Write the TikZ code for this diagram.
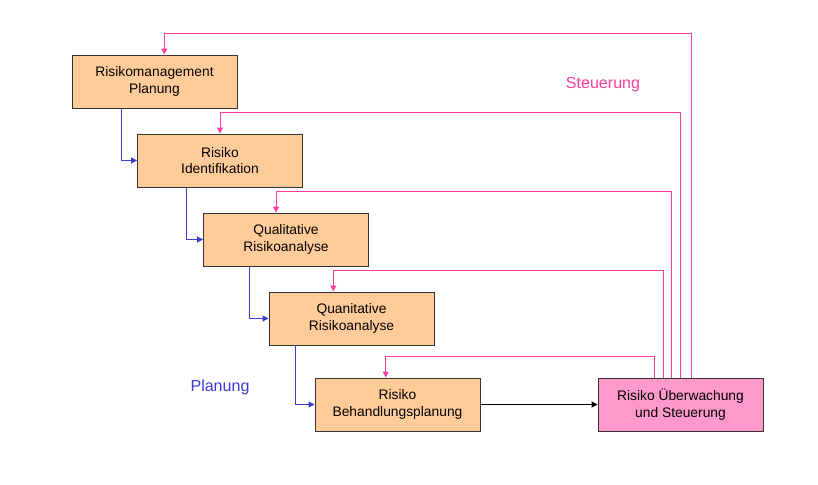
\documentclass[tikz,border=0pt]{standalone}
\usepackage{fontspec}
\setmainfont{Liberation Sans}
\usetikzlibrary{arrows.meta,calc}
\definecolor{Peach}{HTML}{FFCC99}
\definecolor{Rosa}{HTML}{FF99CC}
\definecolor{PlanBlue}{HTML}{3C3CCC}
\definecolor{CtrlPink}{HTML}{FF3D9E}
\definecolor{Frame}{HTML}{333333}
\tikzset{
  phase/.style={draw=Frame, line width=0.8pt, fill=Peach, inner sep=0pt,
    minimum width=4.95cm, minimum height=1.59cm, align=center,
    font=\fontsize{11.8}{14.2}\selectfont},
  plan/.style={PlanBlue, line width=0.85pt, -{Triangle[length=5pt,width=5pt]}},
  ctrl/.style={CtrlPink, line width=0.85pt, -{Triangle[length=5pt,width=5pt]}},
  flow/.style={black, line width=0.8pt, -{Triangle[length=5pt,width=5pt]}}
}

\begin{document}
\begin{tikzpicture}[x=0.03cm, y=-0.03cm]
\useasboundingbox (0,0) rectangle (818,485);

% --- Planungsphasen ---
\node[phase] (rmp) at (154.5,81.5) {Risikomanagement\\Planung};
\node[phase] (rid) at (220,160.5) {Risiko\\Identifikation};
\node[phase] (qla) at (286,239.5) {Qualitative\\Risikoanalyse};
\node[phase] (qna) at (351.5,318.5) {Quanitative\\Risikoanalyse};
\node[phase] (rbp) at (397.5,404.5) {Risiko\\Behandlungsplanung};
\node[phase, fill=Rosa] (rus) at (680.5,404.5) {Risiko \"Uberwachung\\und Steuerung};

\node[PlanBlue, font=\fontsize{13.7}{16}\selectfont] (lplan) at (220,387) {Planung};
\node[CtrlPink, font=\fontsize{13.7}{16}\selectfont] (lctrl) at (603,85) {Steuerung};

% --- Planung ---
\draw[plan] ($(rmp.south)+(-33.5,0)$) |- (rid.west);
\draw[plan] ($(rid.south)+(-33.3,0)$) |- (qla.west);
\draw[plan] ($(qla.south)+(-36.7,0)$) |- (qna.west);
\draw[plan] ($(qna.south)+(-55.8,0)$) |- (rbp.west);
\draw[flow] (rbp.east) -- (rus.west);

% --- Steuerung ---
\foreach \tgt/\src/\dst in {rmp/10.5/9.8, rid/0.2/0, qla/-9.5/-10, qna/-17.2/-18.2, rbp/-25.8/-11.8}
  \draw[ctrl] ($(rus.north)+(\src,0)$) |- ($(\tgt.north)+(\dst,-21)$) -- ($(\tgt.north)+(\dst,0)$);
\end{tikzpicture}
\end{document}
